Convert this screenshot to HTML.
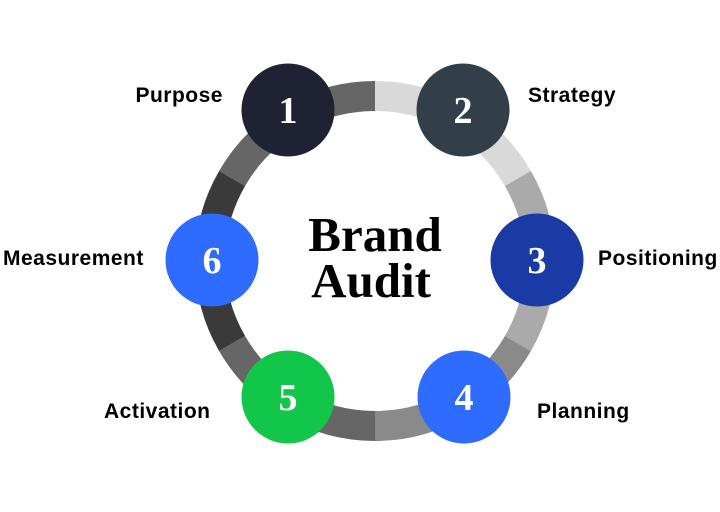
<!DOCTYPE html>
<html><head><style>
body{margin:0;width:720px;height:512px;background:#fff;overflow:hidden}
svg{display:block}
.l{font-family:"Liberation Sans",sans-serif;font-weight:bold;font-size:21px;letter-spacing:0.5px;fill:#000}
.n{font-family:"Liberation Serif",serif;font-weight:bold;font-size:38px;fill:#fff;text-anchor:middle}
.c{font-family:"Liberation Serif",serif;font-weight:bold;font-size:49px;fill:#000;text-anchor:middle}
</style></head><body>
<svg width="720" height="512" viewBox="0 0 720 512">
<g fill="none" stroke-width="30">
<path d="M375 96 A165 165 0 0 0 232.1 178.5" stroke="#666"/>
<path d="M375 96 A165 165 0 0 1 517.9 178.5" stroke="#d9d9d9"/>
<path d="M517.9 178.5 A165 165 0 0 1 517.9 343.5" stroke="#aaa"/>
<path d="M517.9 343.5 A165 165 0 0 1 375 426" stroke="#8a8a8a"/>
<path d="M375 426 A165 165 0 0 1 232.1 343.5" stroke="#666"/>
<path d="M232.1 343.5 A165 165 0 0 1 232.1 178.5" stroke="#3a3a3a"/>
</g>
<circle cx="288" cy="110" r="46.5" fill="#1e2232"/>
<circle cx="463" cy="110" r="46.5" fill="#333f48"/>
<circle cx="537" cy="260" r="46.5" fill="#1a3aa5"/>
<circle cx="464" cy="397" r="46.5" fill="#2e6bff"/>
<circle cx="288" cy="397" r="46.5" fill="#12c64a"/>
<circle cx="212" cy="260" r="46.5" fill="#2e6bff"/>
<text class="n" x="288" y="123">1</text>
<text class="n" x="463" y="123">2</text>
<text class="n" x="537" y="273">3</text>
<text class="n" x="464" y="410">4</text>
<text class="n" x="288" y="410">5</text>
<text class="n" x="212" y="273">6</text>
<text class="c" x="375" y="251">Brand</text>
<text class="c" x="371" y="297">Audit</text>
<text class="l" x="223" y="102" text-anchor="end">Purpose</text>
<text class="l" x="528" y="102">Strategy</text>
<text class="l" x="598" y="265">Positioning</text>
<text class="l" x="3" y="265">Measurement</text>
<text class="l" x="104" y="418">Activation</text>
<text class="l" x="537" y="418">Planning</text>
</svg>
</body></html>
